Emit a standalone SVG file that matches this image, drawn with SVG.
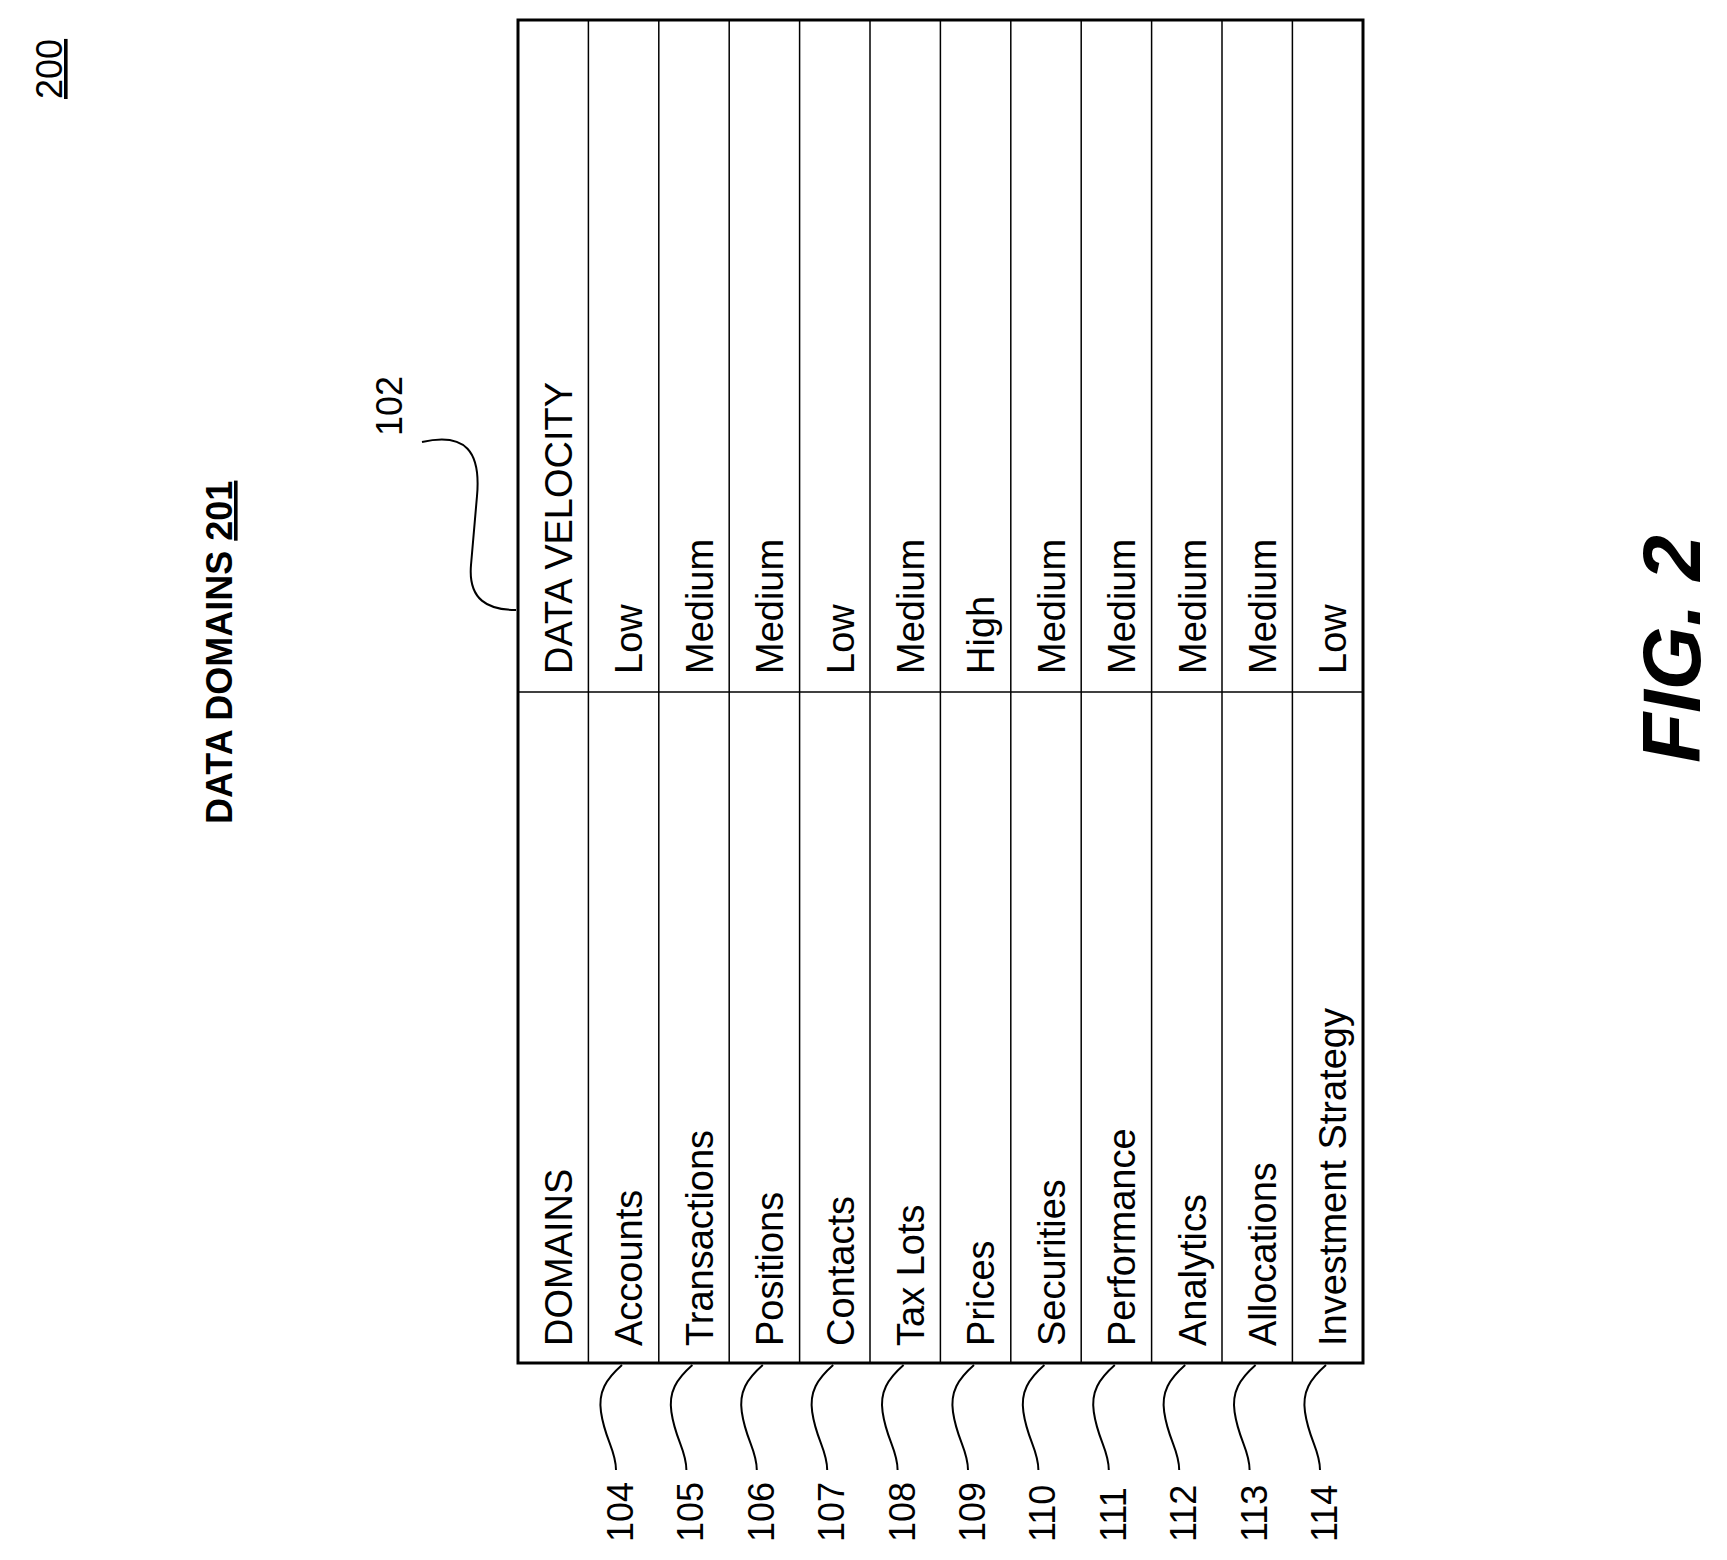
<svg xmlns="http://www.w3.org/2000/svg" width="1727" height="1560" viewBox="0 0 1727 1560">
<style>
text{font-family:"Liberation Sans",Arial,sans-serif;fill:#000}
.c{font-size:38px}
.n{font-size:36px}
.l{fill:none;stroke:#000;stroke-width:2}
.g{stroke:#000;stroke-width:1.5}
</style>
<rect width="1727" height="1560" fill="#fff"/>
<text x="62" y="99" class="n" text-decoration="underline" transform="rotate(-90 62 99)">200</text>
<text x="232" y="824" style="font-size:36px;font-weight:bold" transform="rotate(-90 232 824)">DATA DOMAINS <tspan text-decoration="underline">201</tspan></text>
<text x="402" y="436" class="n" transform="rotate(-90 402 436)">102</text>
<text x="1700" y="763" style="font-size:82px;font-weight:bold;font-style:italic" transform="rotate(-90 1700 763)">FIG. 2</text>
<g id="table">
<rect x="518" y="20" width="845" height="1343" fill="none" stroke="#000" stroke-width="3"/>
<g class="g">
<line x1="518" y1="692" x2="1363" y2="692"/>
<line x1="588.4" y1="20" x2="588.4" y2="1363"/><line x1="658.8" y1="20" x2="658.8" y2="1363"/><line x1="729.2" y1="20" x2="729.2" y2="1363"/><line x1="799.6" y1="20" x2="799.6" y2="1363"/><line x1="870" y1="20" x2="870" y2="1363"/><line x1="940.4" y1="20" x2="940.4" y2="1363"/><line x1="1010.8" y1="20" x2="1010.8" y2="1363"/><line x1="1081.2" y1="20" x2="1081.2" y2="1363"/><line x1="1151.6" y1="20" x2="1151.6" y2="1363"/><line x1="1222" y1="20" x2="1222" y2="1363"/><line x1="1292.4" y1="20" x2="1292.4" y2="1363"/>
</g>
<text class="c" x="572" y="1346" transform="rotate(-90 572 1346)">DOMAINS</text>
<text class="c" x="572" y="674" transform="rotate(-90 572 674)">DATA VELOCITY</text>
<text class="c" x="642" y="1346" transform="rotate(-90 642 1346)">Accounts</text>
<text class="c" x="642" y="674" transform="rotate(-90 642 674)">Low</text>
<text class="c" x="713" y="1346" transform="rotate(-90 713 1346)">Transactions</text>
<text class="c" x="713" y="674" transform="rotate(-90 713 674)">Medium</text>
<text class="c" x="783" y="1346" transform="rotate(-90 783 1346)">Positions</text>
<text class="c" x="783" y="674" transform="rotate(-90 783 674)">Medium</text>
<text class="c" x="854" y="1346" transform="rotate(-90 854 1346)">Contacts</text>
<text class="c" x="854" y="674" transform="rotate(-90 854 674)">Low</text>
<text class="c" x="924" y="1346" transform="rotate(-90 924 1346)">Tax Lots</text>
<text class="c" x="924" y="674" transform="rotate(-90 924 674)">Medium</text>
<text class="c" x="994" y="1346" transform="rotate(-90 994 1346)">Prices</text>
<text class="c" x="994" y="674" transform="rotate(-90 994 674)">High</text>
<text class="c" x="1065" y="1346" transform="rotate(-90 1065 1346)">Securities</text>
<text class="c" x="1065" y="674" transform="rotate(-90 1065 674)">Medium</text>
<text class="c" x="1135" y="1346" transform="rotate(-90 1135 1346)">Performance</text>
<text class="c" x="1135" y="674" transform="rotate(-90 1135 674)">Medium</text>
<text class="c" x="1206" y="1346" transform="rotate(-90 1206 1346)">Analytics</text>
<text class="c" x="1206" y="674" transform="rotate(-90 1206 674)">Medium</text>
<text class="c" x="1276" y="1346" transform="rotate(-90 1276 1346)">Allocations</text>
<text class="c" x="1276" y="674" transform="rotate(-90 1276 674)">Medium</text>
<text class="c" x="1346" y="1346" transform="rotate(-90 1346 1346)">Investment Strategy</text>
<text class="c" x="1346" y="674" transform="rotate(-90 1346 674)">Low</text>
</g>
<g id="connectors" class="l">
<path d="M422,442 C466,432 481,452 477,496 L471,565 C468,600 488,610 516,610"/>
<path id="ld" d="M622,1365 C606,1379 598,1392 601,1412 C605,1440 616,1450 616,1470"/>
<use href="#ld" x="70.4"/><use href="#ld" x="140.8"/><use href="#ld" x="211.2"/><use href="#ld" x="281.6"/><use href="#ld" x="352"/><use href="#ld" x="422.4"/><use href="#ld" x="492.8"/><use href="#ld" x="563.2"/><use href="#ld" x="633.6"/><use href="#ld" x="704"/>
</g>
<g id="labels" class="n">
<text x="633" y="1542" transform="rotate(-90 633 1542)">104</text>
<text x="703" y="1542" transform="rotate(-90 703 1542)">105</text>
<text x="774" y="1542" transform="rotate(-90 774 1542)">106</text>
<text x="844" y="1542" transform="rotate(-90 844 1542)">107</text>
<text x="915" y="1542" transform="rotate(-90 915 1542)">108</text>
<text x="985" y="1542" transform="rotate(-90 985 1542)">109</text>
<text x="1055" y="1542" transform="rotate(-90 1055 1542)">110</text>
<text x="1126" y="1542" transform="rotate(-90 1126 1542)">111</text>
<text x="1196" y="1542" transform="rotate(-90 1196 1542)">112</text>
<text x="1267" y="1542" transform="rotate(-90 1267 1542)">113</text>
<text x="1337" y="1542" transform="rotate(-90 1337 1542)">114</text>
</g>
</svg>
